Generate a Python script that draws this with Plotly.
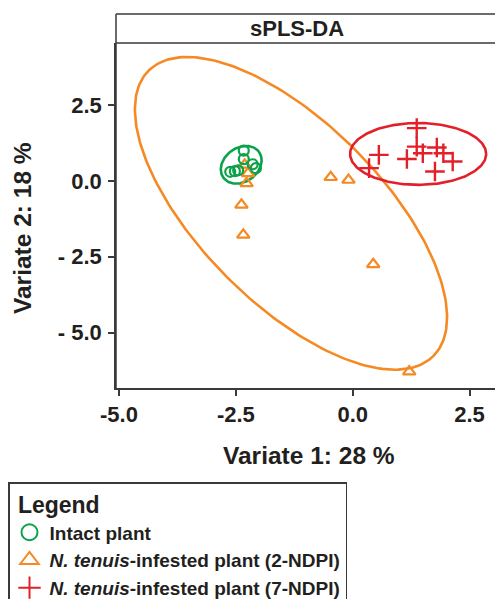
import numpy as np
import plotly.graph_objects as go

# ---- data ----
intact_x = [-2.33, -2.33, -2.62, -2.52, -2.45, -2.14, -2.07]
intact_y = [1.00, 0.72, 0.30, 0.32, 0.35, 0.55, 0.42]

ndpi2_x = [-2.31, -2.24, -2.27, -2.38, -2.34, -0.47, -0.09, 0.44, 1.21]
ndpi2_y = [0.53, 0.25, -0.08, -0.79, -1.78, 0.12, 0.03, -2.75, -6.29]

ndpi7_x = [1.37, 1.37, 1.50, 0.56, 1.16, 1.80, 1.94, 2.14, 1.76, 0.35]
ndpi7_y = [1.74, 1.13, 0.91, 0.86, 0.72, 1.10, 0.91, 0.64, 0.31, 0.42]

# ellipses: centre, and two conjugate semi-axis vectors (data units)
ell_intact = dict(c=(-2.385, 0.53), u=(0.381, 0.426), v=(0.214, -0.454))
ell_ndpi2 = dict(c=(-1.32, -1.07), u=(3.05, -4.70), v=(1.36, 2.12))
ell_ndpi7 = dict(c=(1.40, 0.89), u=(1.456, 0.0), v=(0.0, 1.02))

x_ticks = [-5.0, -2.5, 0.0, 2.5]
x_ticktext = ["-5.0", "-2.5", "0.0", "2.5"]
y_ticks = [2.5, 0.0, -2.5, -5.0]
y_ticktext = ["2.5", "0.0", "- 2.5", "- 5.0"]

names = ["Intact plant",
         "<i>N. tenuis</i>-infested plant (2-NDPI)",
         "<i>N. tenuis</i>-infested plant (7-NDPI)"]

GREEN = "#0AA24A"
ORANGE = "#F58A25"
RED = "#E3202A"
INK = "#231F20"
LINE = "#3A3A3A"
FONT = "Liberation Sans, Arial, sans-serif"


def ellipse(e, n=240):
    t = np.linspace(0, 2 * np.pi, n)
    cx, cy = e["c"]
    ux, uy = e["u"]
    vx, vy = e["v"]
    return cx + ux * np.cos(t) + vx * np.sin(t), cy + uy * np.cos(t) + vy * np.sin(t)


fig = go.Figure()

for e, col in [(ell_ndpi2, ORANGE), (ell_intact, GREEN), (ell_ndpi7, RED)]:
    ex, ey = ellipse(e)
    fig.add_trace(go.Scatter(x=ex, y=ey, mode="lines", line=dict(color=col, width=2.6),
                             showlegend=False, hoverinfo="skip"))

fig.add_trace(go.Scatter(x=ndpi2_x, y=ndpi2_y, mode="markers", showlegend=False,
                         marker=dict(symbol="triangle-up-open", size=11, color=ORANGE,
                                     line=dict(width=2.2, color=ORANGE))))
fig.add_trace(go.Scatter(x=intact_x, y=intact_y, mode="markers", showlegend=False,
                         marker=dict(symbol="circle-open", size=10, color=GREEN,
                                     line=dict(width=2.2, color=GREEN))))
fig.add_trace(go.Scatter(x=ndpi7_x, y=ndpi7_y, mode="markers", showlegend=False,
                         marker=dict(symbol="cross-thin-open", size=14, color=RED,
                                     line=dict(width=2.4, color=RED))))

# legend entries
for nm, sym, col in zip(names, ["circle-open", "triangle-up-open", "cross-thin-open"],
                        [GREEN, ORANGE, RED]):
    fig.add_trace(go.Scatter(x=[None], y=[None], mode="markers", name=nm,
                             marker=dict(symbol=sym, size=16, color=col,
                                         line=dict(width=2, color=col))))

# page places the figure 8px in from the top-left corner
OFF = 8
W, H = 503 - OFF, 599 - OFF
L, R, T, B = 116 - OFF, 0, 43 - OFF, H - (388 - OFF)
ph = H - T - B  # 345


def py(p):
    return (H - B - (p - OFF)) / ph


def px(p):
    return (p - OFF - L) / (W - L - R)


fig.update_layout(
    width=W, height=H,
    margin=dict(l=L, r=R, t=T, b=B, autoexpand=False),
    paper_bgcolor="white", plot_bgcolor="white",
    font=dict(family=FONT, color=INK),
    xaxis=dict(range=[-5.064, 3.216], tickvals=x_ticks, ticktext=x_ticktext,
               showgrid=False, zeroline=False, showline=True, linecolor=LINE, linewidth=1.5,
               ticks="outside", ticklen=6, tickwidth=1.5, tickcolor=LINE, tickangle=0,
               tickfont=dict(size=22, weight="bold", color=INK), ticklabelstandoff=0),
    yaxis=dict(range=[-6.83, 4.548], tickvals=y_ticks, ticktext=y_ticktext,
               showgrid=False, zeroline=False, showline=True, linecolor=LINE, linewidth=1.5,
               ticks="outside", ticklen=6, tickwidth=1.5, tickcolor=LINE,
               tickfont=dict(size=22, weight="bold", color=INK), ticklabelstandoff=2),
    legend=dict(xref="container", yref="container", x=0, y=1 - (482 - OFF) / H,
                xanchor="left", yanchor="top",
                bordercolor=LINE, borderwidth=1.5, bgcolor="white",
                font=dict(size=19, weight="bold", color=INK),
                title=dict(text="&nbsp;Legend", font=dict(size=23, weight="bold", color=INK)),
                tracegroupgap=0, itemwidth=30),
    showlegend=True,
)

# strip + panel frame
shapes = [
    dict(type="line", xref="paper", yref="paper", x0=0, x1=1.01, y0=1, y1=1,
         line=dict(color=LINE, width=1.5)),
    dict(type="line", xref="paper", yref="paper", x0=0, x1=1.01, y0=py(14), y1=py(14),
         line=dict(color=LINE, width=1.5)),
    dict(type="line", xref="paper", yref="paper", x0=0, x1=0, y0=0, y1=py(14),
         line=dict(color=LINE, width=1.5)),
]
fig.update_layout(shapes=shapes)

fig.add_annotation(text="<b>sPLS-DA</b>", xref="paper", yref="paper", x=px(297), y=py(28.5),
                   showarrow=False, font=dict(size=22, color=INK, family=FONT),
                   xanchor="center", yanchor="middle")
fig.add_annotation(text="<b>Variate 1: 28 %</b>", xref="paper", yref="paper", x=px(308.5), y=py(455),
                   showarrow=False, font=dict(size=24.5, color=INK, family=FONT),
                   xanchor="center", yanchor="middle")
fig.add_annotation(text="<b>Variate 2: 18 %</b>", xref="paper", yref="paper", x=px(23), y=py(228),
                   showarrow=False, textangle=-90, font=dict(size=24.5, color=INK, family=FONT),
                   xanchor="center", yanchor="middle")

fig.write_html("out.html")
